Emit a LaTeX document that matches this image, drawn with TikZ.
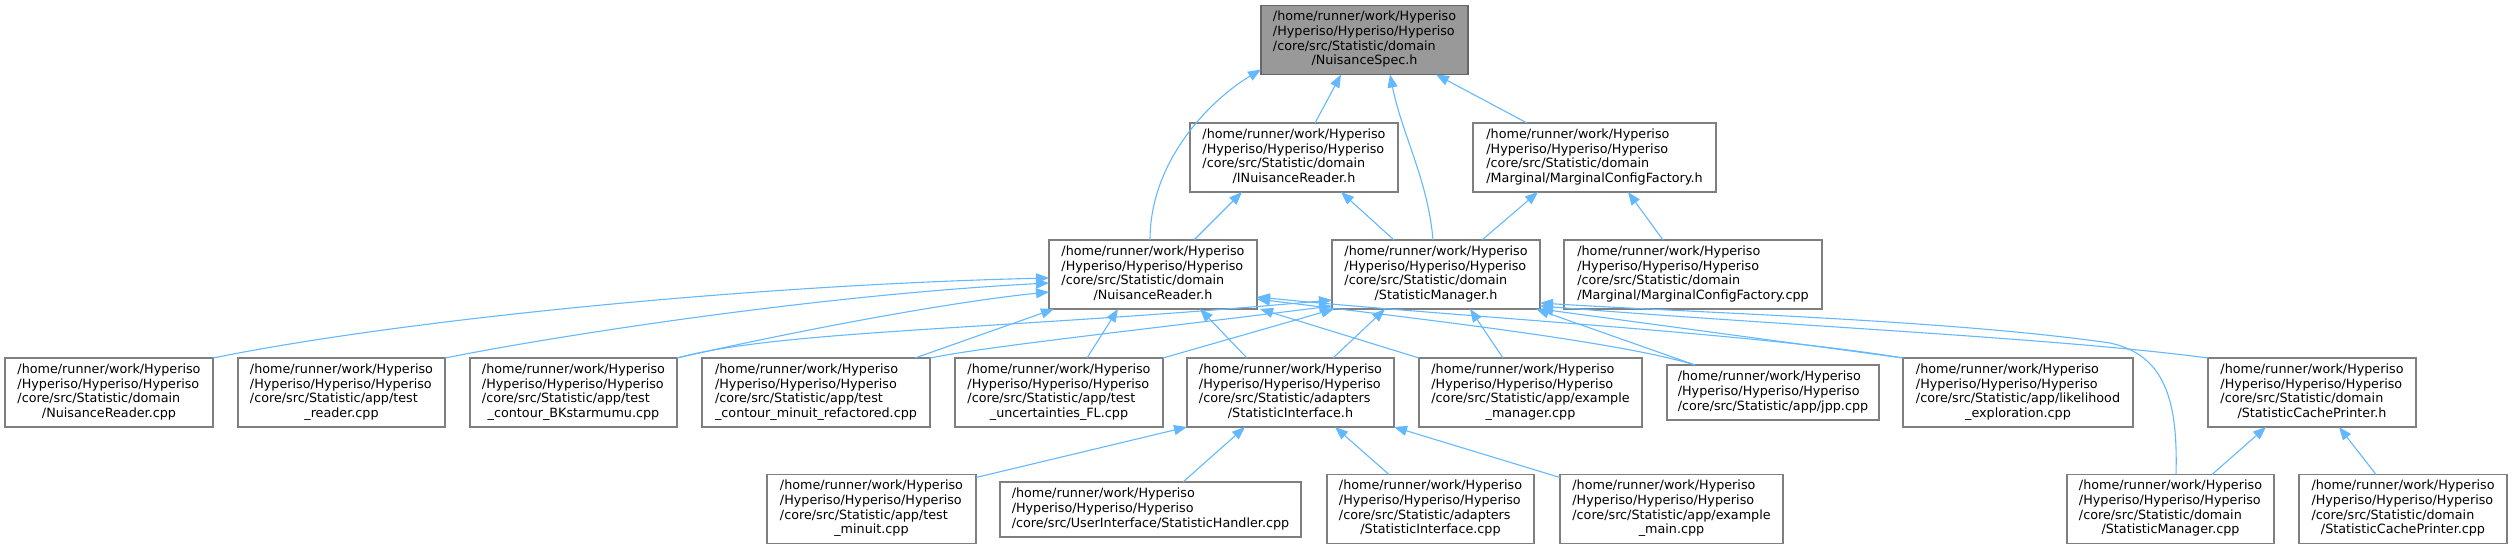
\documentclass[tikz,border=0pt]{standalone}
\usepackage{fontspec}
\setmainfont{DejaVu Sans}
\usetikzlibrary{arrows.meta}
\definecolor{edgeblue}{HTML}{63B8FF}
\definecolor{boxgray}{HTML}{7F7F7F}
\definecolor{rootfill}{HTML}{999999}
\definecolor{rootdraw}{HTML}{666666}
\newcommand{\hpA}{/home/runner/work/Hyperiso}
\newcommand{\hpB}{/Hyperiso/Hyperiso/Hyperiso}
\newcommand{\ftxt}[1]{\begin{tabular}{@{}l@{}}#1\end{tabular}}
\newcommand{\lastl}[1]{\multicolumn{1}{@{}c@{}}{#1}}
\begin{document}
\begin{tikzpicture}[x=1pt,y=1pt,
  fbox/.style={draw=boxgray, line width=1.2pt, fill=white, inner sep=1pt, outer sep=0pt,
    font=\fontsize{12.75pt}{14.7pt}\selectfont, text=black},
  rootbox/.style={fbox, fill=rootfill, draw=rootdraw},
  r4/.style={minimum height=69pt},
  r3/.style={minimum height=55pt},
  edge/.style={draw=edgeblue, line width=1.1pt, -{Triangle[length=13pt,width=10pt]}}]
\useasboundingbox (0,0) rectangle (2512,-549);

% row 0
\node[rootbox, r4, minimum width=207pt] (spec) at (1364.5,-40)
  {\ftxt{\hpA\\ \hpB\\ /core/src/Statistic/domain\\ \lastl{/NuisanceSpec.h}}};
% row 1
\node[fbox, r4, minimum width=208pt] (inr) at (1294,-157.5)
  {\ftxt{\hpA\\ \hpB\\ /core/src/Statistic/domain\\ \lastl{/INuisanceReader.h}}};
\node[fbox, r4, minimum width=243pt] (mcfh) at (1594.5,-157.5)
  {\ftxt{\hpA\\ \hpB\\ /core/src/Statistic/domain\\ \lastl{/Marginal/MarginalConfigFactory.h}}};
% row 2
\node[fbox, r4, minimum width=208pt] (nrh) at (1153,-274.5)
  {\ftxt{\hpA\\ \hpB\\ /core/src/Statistic/domain\\ \lastl{/NuisanceReader.h}}};
\node[fbox, r4, minimum width=208pt] (smh) at (1436,-274.5)
  {\ftxt{\hpA\\ \hpB\\ /core/src/Statistic/domain\\ \lastl{/StatisticManager.h}}};
\node[fbox, r4, minimum width=258pt] (mcfcpp) at (1693,-274.5)
  {\ftxt{\hpA\\ \hpB\\ /core/src/Statistic/domain\\ \lastl{/Marginal/MarginalConfigFactory.cpp}}};
% row 3
\node[fbox, r4, minimum width=208pt] (nrcpp) at (109,-392.5)
  {\ftxt{\hpA\\ \hpB\\ /core/src/Statistic/domain\\ \lastl{/NuisanceReader.cpp}}};
\node[fbox, r4, minimum width=207pt] (treader) at (341.5,-392.5)
  {\ftxt{\hpA\\ \hpB\\ /core/src/Statistic/app/test\\ \lastl{\_reader.cpp}}};
\node[fbox, r4, minimum width=207pt] (bk) at (573.5,-392.5)
  {\ftxt{\hpA\\ \hpB\\ /core/src/Statistic/app/test\\ \lastl{\_contour\_BKstarmumu.cpp}}};
\node[fbox, r4, minimum width=228pt] (mr) at (816,-392.5)
  {\ftxt{\hpA\\ \hpB\\ /core/src/Statistic/app/test\\ \lastl{\_contour\_minuit\_refactored.cpp}}};
\node[fbox, r4, minimum width=208pt] (fl) at (1059,-392.5)
  {\ftxt{\hpA\\ \hpB\\ /core/src/Statistic/app/test\\ \lastl{\_uncertainties\_FL.cpp}}};
\node[fbox, r4, minimum width=207pt] (sih) at (1290.5,-392.5)
  {\ftxt{\hpA\\ \hpB\\ /core/src/Statistic/adapters\\ \lastl{/StatisticInterface.h}}};
\node[fbox, r4, minimum width=223pt] (em) at (1530.5,-392.5)
  {\ftxt{\hpA\\ \hpB\\ /core/src/Statistic/app/example\\ \lastl{\_manager.cpp}}};
\node[fbox, r3, minimum width=212pt] (jpp) at (1773,-392.5)
  {\ftxt{\hpA\\ \hpB\\ \lastl{/core/src/Statistic/app/jpp.cpp}}};
\node[fbox, r4, minimum width=230pt] (le) at (2018,-392.5)
  {\ftxt{\hpA\\ \hpB\\ /core/src/Statistic/app/likelihood\\ \lastl{\_exploration.cpp}}};
\node[fbox, r4, minimum width=208pt] (scph) at (2312,-392.5)
  {\ftxt{\hpA\\ \hpB\\ /core/src/Statistic/domain\\ \lastl{/StatisticCachePrinter.h}}};
% row 4
\node[fbox, r4, minimum width=209pt] (tm) at (871.5,-509)
  {\ftxt{\hpA\\ \hpB\\ /core/src/Statistic/app/test\\ \lastl{\_minuit.cpp}}};
\node[fbox, r3, minimum width=301pt] (sh) at (1150.5,-509.5)
  {\ftxt{\hpA\\ \hpB\\ \lastl{/core/src/UserInterface/StatisticHandler.cpp}}};
\node[fbox, r4, minimum width=207pt] (sicpp) at (1430.5,-509)
  {\ftxt{\hpA\\ \hpB\\ /core/src/Statistic/adapters\\ \lastl{/StatisticInterface.cpp}}};
\node[fbox, r4, minimum width=223pt] (emain) at (1671.5,-509)
  {\ftxt{\hpA\\ \hpB\\ /core/src/Statistic/app/example\\ \lastl{\_main.cpp}}};
\node[fbox, r4, minimum width=207pt] (smcpp) at (2170.5,-509)
  {\ftxt{\hpA\\ \hpB\\ /core/src/Statistic/domain\\ \lastl{/StatisticManager.cpp}}};
\node[fbox, r4, minimum width=208pt] (scpcpp) at (2403,-509)
  {\ftxt{\hpA\\ \hpB\\ /core/src/Statistic/domain\\ \lastl{/StatisticCachePrinter.cpp}}};

% edges to NuisanceSpec.h
\draw[edge] ([xshift=101pt]nrh.north west) .. controls +(0,80) and +(-50,-30) .. ([yshift=5pt]spec.south west);
\draw[edge] ([xshift=125pt]inr.north west) -- ([xshift=80pt]spec.south west);
\draw[edge] ([xshift=101pt]smh.north west) .. controls +(-5,60) and +(12,-60) .. ([xshift=129pt]spec.south west);
\draw[edge] ([xshift=54pt]mcfh.north west) -- ([xshift=175pt]spec.south west);
% edges to row 1
\draw[edge] ([xshift=145pt]nrh.north west) -- ([xshift=52pt]inr.south west);
\draw[edge] ([xshift=62pt]smh.north west) -- ([xshift=151pt]inr.south west);
\draw[edge] ([xshift=150pt]smh.north west) -- ([xshift=65pt]mcfh.south west);
\draw[edge] ([xshift=99pt]mcfcpp.north west) -- ([xshift=155pt]mcfh.south west);
% edges to NuisanceReader.h
\draw[edge] (nrcpp.north east) .. controls +(187,38) and +(-299,-7) .. ([yshift=31pt]nrh.south west);
\draw[edge] (treader.north east) .. controls +(115,23) and +(-229,-12) .. ([yshift=26pt]nrh.south west);
\draw[edge] (bk.north east) .. controls +(123,28) and +(-99,-10) .. ([yshift=17pt]nrh.south west);
\draw[edge] ([xshift=-15pt]mr.north east) -- ([xshift=5pt]nrh.south west);
\draw[edge] ([xshift=132pt]fl.north west) -- ([xshift=69pt]nrh.south west);
\draw[edge] ([xshift=60pt]sih.north west) -- ([xshift=151pt]nrh.south west);
\draw[edge] (em.north west) -- ([xshift=3pt]nrh.south east);
\draw[edge] ([xshift=28pt]jpp.north west) .. controls +(-80,25) and +(120,-15) .. ([yshift=10pt]nrh.south east);
\draw[edge] (le.north west) .. controls +(-150,25) and +(200,-20) .. ([yshift=12pt]nrh.south east);
% edges to StatisticManager.h
\draw[edge] (bk.north east) .. controls +(103,28) and +(-332,-30) .. ([yshift=9pt]smh.south west);
\draw[edge] (mr.north east) .. controls +(60,12) and +(-200,-25) .. ([yshift=3pt]smh.south west);
\draw[edge] (fl.north east) -- ([xshift=2pt]smh.south west);
\draw[edge] ([xshift=146pt]sih.north west) -- ([xshift=53pt]smh.south west);
\draw[edge] ([xshift=84pt]em.north west) -- ([xshift=138pt]smh.south west);
\draw[edge] ([xshift=28pt]jpp.north west) -- ([xshift=-4pt]smh.south east);
\draw[edge] (le.north west) -- (smh.south east);
\draw[edge] (scph.north west) .. controls +(-150,20) and +(250,-20) .. ([yshift=3pt]smh.south east);
\draw[edge] ([xshift=109pt]smcpp.north west) .. controls +(2,74) and +(55,-12) .. (2110,-343)
  .. controls +(-160,23) and +(160,-10) .. ([yshift=6pt]smh.south east);
% edges to StatisticInterface.h
\draw[edge] ([yshift=-3pt]tm.north east) -- (sih.south west);
\draw[edge] ([xshift=183pt]sh.north west) -- ([xshift=58pt]sih.south west);
\draw[edge] ([xshift=62pt]sicpp.north west) -- ([xshift=148pt]sih.south west);
\draw[edge] ([yshift=-3pt]emain.north west) -- (sih.south east);
% edges to StatisticCachePrinter.h
\draw[edge] ([xshift=145pt]smcpp.north west) -- ([xshift=58pt]scph.south west);
\draw[edge] ([xshift=77pt]scpcpp.north west) -- ([xshift=131pt]scph.south west);
\end{tikzpicture}
\end{document}
